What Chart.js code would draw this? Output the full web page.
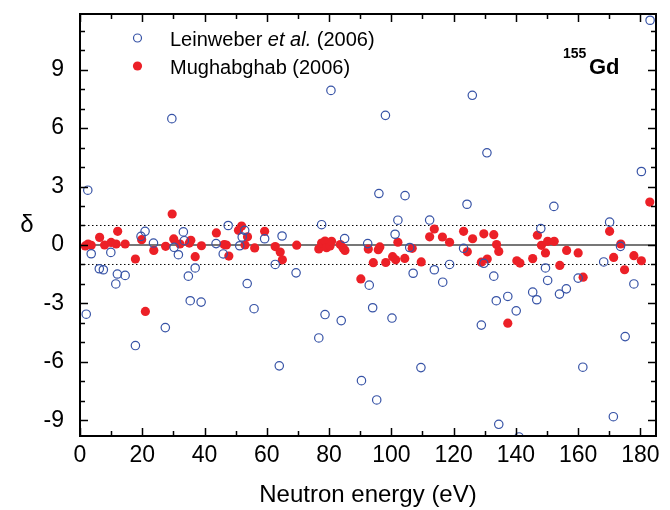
<!DOCTYPE html>
<html>
<head>
<meta charset="utf-8">
<script src="https://cdn.jsdelivr.net/npm/chart.js@4/dist/chart.umd.min.js"></script>
<style>
  html, body { margin: 0; padding: 0; background: #fff; }
  #wrap { width: 670px; height: 510px; position: relative; }
</style>
</head>
<body>
<div id="wrap"><canvas id="deltaChart"></canvas></div>
<script>
// Leinweber et al. (2006): neutron energy (eV) / delta
const energyLein = [2.0, 2.5, 3.6, 6.2, 7.5, 9.9, 11.5, 12.0, 14.5, 17.8, 19.6, 20.9, 23.6, 27.4, 29.5, 30.2, 31.6, 33.2, 33.5, 34.8,
  35.4, 37.0, 38.9, 43.7, 46.0, 47.6, 51.3, 52.1, 52.9, 53.7, 55.9, 59.3, 62.7, 64.0, 64.9, 69.4, 76.7, 77.6, 78.7, 80.6,
  83.9, 85.0, 90.4, 92.4, 92.9, 94.0, 95.3, 96.0, 98.1, 100.2, 101.2, 102.1, 104.4, 105.9, 107.0, 109.5, 112.3, 113.8, 116.5, 118.7,
  123.2, 124.3, 126.0, 128.9, 129.7, 130.7, 132.9, 133.7, 134.5, 137.4, 140.1, 141.0, 145.4, 146.7, 148.0, 149.5, 150.2, 152.2, 154.0, 156.2,
  160.0, 161.5, 168.2, 170.1, 171.3, 173.6, 175.1, 177.9, 180.3, 183.1];
const deltaLein = [-3.55, 2.81, -0.45, -1.22, -1.27, -0.38, -2.0, -1.49, -1.56, -5.16, 0.44, 0.7, 0.1, -4.24, 6.48, -0.12, -0.5, 0.67, 0.22, -1.6,
  -2.86, -1.18, -2.93, 0.07, -0.46, 1.0, -0.04, 0.41, 0.75, -1.98, -3.27, 0.32, -1.0, -6.2, 0.46, -1.43, -4.77, 1.04, -3.57, 7.93,
  -3.88, 0.33, -6.96, 0.07, -2.06, -3.22, -7.95, 2.64, 6.65, -3.75, 0.55, 1.27, 2.53, -0.13, -1.45, -6.29, 1.28, -1.27, -1.91, -1.0,
  -0.17, 2.09, 7.68, -4.11, -0.94, 4.73, -1.6, -2.86, -9.2, -2.64, -3.38, -9.85, -2.42, -2.81, 0.84, -1.18, -1.82, 1.98, -2.52, -2.25,
  -1.7, -6.27, -0.87, 1.17, -8.81, -0.07, -4.7, -2.0, 3.77, 11.53];

// Mughabghab (2006)
const energyMugh = [1.7, 2.6, 3.6, 6.3, 7.9, 10.0, 11.6, 12.1, 14.5, 17.8, 19.8, 21.0, 23.7, 27.5, 29.6, 30.1, 32.1, 35.1, 35.6, 37.0,
  39.0, 43.8, 46.3, 47.0, 47.8, 50.9, 51.9, 53.0, 53.8, 56.1, 59.3, 62.7, 64.3, 65.0, 69.6, 76.7, 77.6, 78.7, 79.2, 80.3,
  80.8, 83.6, 84.5, 85.1, 90.2, 92.6, 94.2, 95.8, 96.3, 98.2, 100.4, 101.4, 102.1, 104.3, 106.7, 109.6, 112.3, 113.8, 116.4, 118.7,
  123.2, 124.4, 126.1, 128.9, 129.7, 130.8, 132.9, 133.8, 134.5, 137.4, 140.3, 141.3, 145.4, 146.9, 148.2, 149.5, 150.2, 152.3, 154.1, 156.3,
  160.0, 161.6, 170.1, 171.4, 173.7, 174.9, 177.9, 180.3, 183.0];
const deltaMugh = [-0.05, 0.05, -0.02, 0.39, 0.0, 0.13, 0.05, 0.7, 0.05, -0.72, 0.27, -3.41, -0.28, -0.07, 1.59, 0.31, 0.05, 0.1, 0.24, -0.6,
  -0.04, 0.62, 0.02, 0.0, -0.57, 0.75, 0.97, 0.0, 0.42, -0.15, 0.7, -0.08, -0.36, -0.76, -0.01, -0.2, 0.1, 0.2, -0.14, -0.05,
  0.19, 0.02, -0.15, -0.28, -1.74, -0.21, -0.91, -0.24, -0.1, -0.9, -0.6, -0.76, 0.14, -0.69, -0.17, -0.87, 0.42, 0.82, 0.41, 0.14,
  0.7, -0.35, 0.32, -0.88, 0.57, -0.72, 0.53, 0.02, -0.33, -4.01, -0.81, -0.93, -0.7, 0.5, -0.02, -0.41, 0.19, 0.19, -1.05, -0.28,
  -0.41, -1.65, 0.7, -0.64, 0.05, -1.27, -0.55, -0.81, 2.2];

// reference levels: solid zero line, dotted +/-1
const refSolid = [0];
const refDotted = [-1, 1];

// labelled ticks
const xLabelValues = [0, 20, 40, 60, 80, 100, 120, 140, 160, 180];
const yLabelValues = [-9, -6, -3, 0, 3, 6, 9];

const X_MIN = 0, X_MAX = 185, Y_MIN = -9.8, Y_MAX = 11.85;
const FONT = "'Liberation Sans', Arial, Helvetica, sans-serif";
const BLUE = '#3753a6';
const RED = '#ec2027';

const toPoints = (xs, ys) => xs.map((x, i) => ({ x: x, y: ys[i] }));

const refDatasets = [];
refSolid.forEach(v => refDatasets.push({
  type: 'line', data: [{ x: X_MIN, y: v }, { x: X_MAX, y: v }],
  borderColor: '#4a4a4a', borderWidth: 1.3, pointRadius: 0, fill: false
}));
refDotted.forEach(v => refDatasets.push({
  type: 'line', data: [{ x: X_MIN, y: v }, { x: X_MAX, y: v }],
  borderColor: '#000', borderWidth: 1, borderDash: [1.5, 2.5], pointRadius: 0, fill: false
}));

// inward ticks on all four sides + frame + legend + labels
const framePlugin = {
  id: 'frame',
  afterDraw(chart) {
    const { ctx, chartArea: a, scales } = chart;
    const xs = scales.x, ys = scales.y;
    ctx.save();
    ctx.strokeStyle = '#000';
    ctx.lineWidth = 1.5;
    ctx.beginPath();
    for (let v = X_MIN; v <= 180; v += 10) {
      const p = Math.round(xs.getPixelForValue(v)) + 0.5;
      const len = v % 20 === 0 ? 8 : 5;
      ctx.moveTo(p, a.bottom); ctx.lineTo(p, a.bottom - len);
      ctx.moveTo(p, a.top); ctx.lineTo(p, a.top + len);
    }
    for (let v = -9; v <= 11; v += 1) {
      const p = Math.round(ys.getPixelForValue(v)) + 0.5;
      const len = v % 3 === 0 ? 8 : 5;
      ctx.moveTo(a.left, p); ctx.lineTo(a.left + len, p);
      ctx.moveTo(a.right, p); ctx.lineTo(a.right - len, p);
    }
    ctx.stroke();
    ctx.lineWidth = 2;
    ctx.strokeRect(a.left, a.top, a.right - a.left, a.bottom - a.top);

    // legend
    ctx.textBaseline = 'alphabetic';
    const lx = 137.5, tx = 170;
    ctx.beginPath();
    ctx.arc(lx, 38, 4, 0, Math.PI * 2);
    ctx.strokeStyle = BLUE; ctx.lineWidth = 1.2; ctx.stroke();
    ctx.beginPath();
    ctx.arc(lx, 66, 4.6, 0, Math.PI * 2);
    ctx.fillStyle = RED; ctx.fill();
    ctx.fillStyle = '#000';
    ctx.font = '20px ' + FONT;
    let cx = tx;
    ctx.fillText('Leinweber ', cx, 46);
    cx += ctx.measureText('Leinweber ').width;
    ctx.font = 'italic 20px ' + FONT;
    ctx.fillText('et al.', cx, 46);
    cx += ctx.measureText('et al.').width;
    ctx.font = '20px ' + FONT;
    ctx.fillText(' (2006)', cx, 46);
    ctx.fillText('Mughabghab (2006)', tx, 74);

    // isotope label
    ctx.font = 'bold 14px ' + FONT;
    ctx.fillText('155', 563, 58);
    ctx.font = 'bold 22px ' + FONT;
    ctx.fillText('Gd', 589, 74);

    // upright y title
    ctx.font = '24px ' + FONT;
    ctx.textAlign = 'center';
    ctx.textBaseline = 'middle';
    ctx.fillText('δ', 27, (a.top + a.bottom) / 2);
    ctx.restore();
  }
};

const ctx = document.getElementById('deltaChart').getContext('2d');
new Chart(ctx, {
  type: 'scatter',
  data: {
    datasets: [
      {
        label: 'Leinweber et al. (2006)',
        data: toPoints(energyLein, deltaLein),
        borderColor: BLUE,
        backgroundColor: 'rgba(0,0,0,0)',
        borderWidth: 1.2,
        pointRadius: 4.2,
        pointHoverRadius: 4.2
      },
      {
        label: 'Mughabghab (2006)',
        data: toPoints(energyMugh, deltaMugh),
        borderColor: RED,
        backgroundColor: RED,
        borderWidth: 0,
        pointRadius: 4.6,
        pointHoverRadius: 4.6
      },
      ...refDatasets
    ]
  },
  options: {
    responsive: true,
    maintainAspectRatio: false,
    animation: false,
    layout: { padding: { top: 14, right: 14, left: 0, bottom: 0 } },
    plugins: {
      legend: { display: false },
      tooltip: { enabled: false }
    },
    scales: {
      x: {
        type: 'linear',
        min: X_MIN, max: X_MAX,
        afterBuildTicks: s => { s.ticks = xLabelValues.map(v => ({ value: v })); },
        afterFit: s => { s.height = 74; s.paddingLeft = 0; s.paddingRight = 0; },
        grid: { display: false, drawTicks: false },
        border: { display: false },
        ticks: {
          autoSkip: false, maxRotation: 0, padding: 6,
          color: '#000', font: { family: FONT, size: 23 },
          callback: v => String(v)
        },
        title: {
          display: true, text: 'Neutron energy (eV)', color: '#000',
          font: { family: FONT, size: 24 }, padding: { top: 6, bottom: 0 }
        }
      },
      y: {
        type: 'linear',
        min: Y_MIN, max: Y_MAX,
        afterBuildTicks: s => { s.ticks = yLabelValues.map(v => ({ value: v })); },
        afterFit: s => { s.width = 80; s.paddingTop = 0; s.paddingBottom = 0; },
        grid: { display: false, drawTicks: false },
        border: { display: false },
        ticks: {
          autoSkip: false, padding: 16,
          color: '#000', font: { family: FONT, size: 23 },
          callback: v => String(v)
        }
      }
    }
  },
  plugins: [framePlugin]
});
</script>
</body>
</html>
